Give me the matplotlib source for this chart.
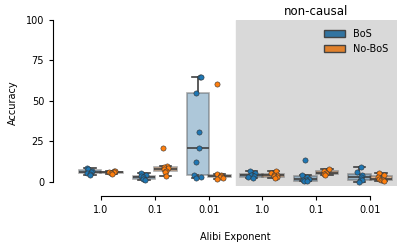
import numpy as np
import matplotlib
matplotlib.use("Agg")
import matplotlib.pyplot as plt
from matplotlib.patches import Patch

tick_labels = ["1.0", "0.1", "0.01", "1.0", "0.1", "0.01"]
series_names = ["BoS", "No-BoS"]

bos = [
    [8.5, 8, 7, 6, 5.5, 5, 4.5],
    [5.5, 4, 3.5, 3, 2, 2, 1.5],
    [65, 65, 55, 31, 21, 12.5, 4, 3, 2.5],
    [6.5, 5.5, 4.5, 4, 3.5, 3, 2.5],
    [13.5, 4.5, 3, 2, 1.5, 1, 0.5, 0.5],
    [9.5, 6, 4, 3, 2, 1, 0],
]
nobos = [
    [7, 6.5, 6, 6, 5.5, 5],
    [21, 10, 9, 8.5, 8, 7, 6, 3.5],
    [60.5, 5, 4, 3.5, 3, 2.5, 2],
    [6.5, 5.5, 4.5, 4, 3.5, 3, 2.5],
    [8, 6.5, 5.5, 5, 4.5],
    [5.5, 4, 3, 2, 1.5, 1, 0.5],
]

point_colors = ["#1f77b4", "#ff7f0e"]
box_colors = ["#3274a1", "#e1812c"]

fig = plt.figure(figsize=(4.15, 2.52), dpi=100)
ax = fig.add_axes([74/415, 1-186/252, (397-74)/415, (186-20)/252])

ax.axvspan(2.5, 5.5, color="#d9d9d9", zorder=0)

rng = np.random.default_rng(3)
for s, (data, col, bcol, off) in enumerate(zip([bos, nobos], point_colors, box_colors, [-0.2, 0.2])):
    pos = [i + off for i in range(len(data))]
    ax.boxplot(data, positions=pos, widths=0.42, patch_artist=True,
               showfliers=False, whis=1.5, manage_ticks=False,
               boxprops=dict(facecolor=matplotlib.colors.to_rgba(bcol, 0.4),
                             edgecolor=(0.35, 0.35, 0.35, 0.5), linewidth=1.2),
               medianprops=dict(color="#3f3f3f", linewidth=1.2),
               whiskerprops=dict(color="#3f3f3f", linewidth=1.2),
               capprops=dict(color="#3f3f3f", linewidth=1.2))
    for i, vals in enumerate(data):
        xs = pos[i] + rng.uniform(-0.07, 0.07, len(vals))
        ax.scatter(xs, vals, s=14, color=col, edgecolor="#333333",
                   linewidth=0.4, zorder=3)

ax.set_xlim(-0.5, 5.5)
ax.set_ylim(-2.5, 100)
ax.set_yticks([0, 25, 50, 75, 100])
ax.set_xticks(range(6))
ax.set_xticklabels(tick_labels, rotation=25)
ax.tick_params(labelsize=7, length=3, width=0.8)
for sp in ["top", "right"]:
    ax.spines[sp].set_visible(False)
ax.spines["left"].set_position(("outward", 15))
ax.spines["bottom"].set_position(("outward", 7.5))
ax.spines["left"].set_bounds(0, 100)
ax.spines["bottom"].set_bounds(0, 5)
ax.set_ylabel("Accuracy", fontsize=7, labelpad=6)
ax.set_xlabel("Alibi Exponent", fontsize=7, labelpad=12)

ax.text(4.0, 101.5, "non-causal", ha="center", va="bottom", fontsize=8.5)

handles = [Patch(facecolor=c, edgecolor="#444444", label=n) for c, n in zip(box_colors, series_names)]
ax.legend(handles=handles, loc="upper right", frameon=False, fontsize=7,
          bbox_to_anchor=(1.0, 1.0), handlelength=2.2, handleheight=0.8)

fig.savefig("out.png", dpi=100)
